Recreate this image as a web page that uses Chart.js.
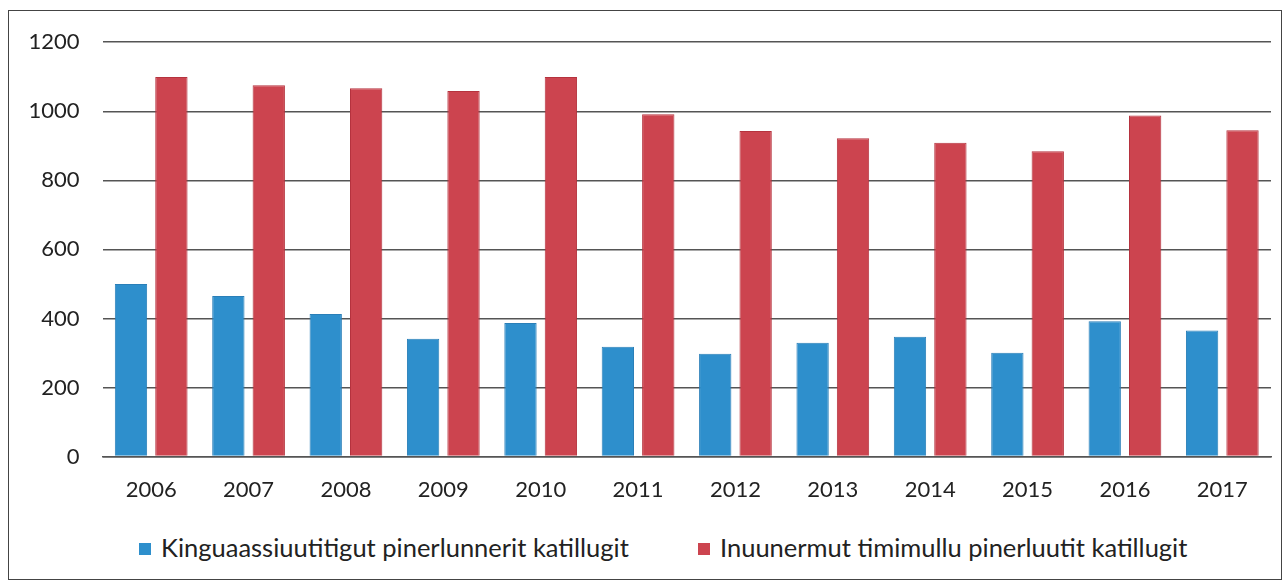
<!DOCTYPE html>
<html lang="kl">
<head>
    <meta charset="UTF-8">
    <title>Katillugit 2006-2017</title>
    <script src="https://cdn.jsdelivr.net/npm/chart.js"></script>
    <style>
        body { margin: 0; padding: 0; background: #fff; font-family: Lato, sans-serif; }
        .frame { position: absolute; left: 8px; top: 10px; width: 1274px; height: 570px; border: 1.5px solid #444; box-sizing: border-box; }
        .chart-box { position: absolute; left: 0; top: -5px; width: 100%; height: 509px; }
        .legend { position: absolute; top: 517px; left: 0; width: 100%; height: 40px; font-size: 25.5px; color: #222; }
        .legend span { position: absolute; top: 4px; white-space: nowrap; }
        .legend i { display: inline-block; width: 12px; height: 12px; margin-right: 10px; vertical-align: 2px; }
        canvas { display: block; }
    </style>
</head>
<body>
    <div class="frame">
        <div class="chart-box"><canvas id="barChart"></canvas></div>
        <div class="legend" id="legend"></div>
    </div>
    <script>
    // years along the x axis
    const years = ["2006", "2007", "2008", "2009", "2010", "2011", "2012", "2013", "2014", "2015", "2016", "2017"];
    // values
    const kinguaassiuutitigut = [500, 465, 413, 341, 387, 318, 298, 330, 347, 301, 392, 365];
    const inuunermut = [1099, 1075, 1067, 1059, 1099, 991, 943, 922, 909, 884, 988, 945];
    const seriesNames = ["Kinguaassiuutitigut pinerlunnerit katillugit", "Inuunermut timimullu pinerluutit katillugit"];
    const seriesColors = ["#2e8fcc", "#cc444f"];
    const yTicks = [0, 200, 400, 600, 800, 1000, 1200];

    const ctx = document.getElementById("barChart").getContext("2d");
    const chart = new Chart(ctx, {
        type: "bar",
        data: {
            labels: years,
            datasets: [
                { label: seriesNames[0], data: kinguaassiuutitigut, backgroundColor: seriesColors[0], borderColor: "#2a7fb8", borderWidth: 1 },
                { label: seriesNames[1], data: inuunermut, backgroundColor: seriesColors[1], borderColor: "#b5333e", borderWidth: 1 }
            ]
        },
        options: {
            responsive: true,
            maintainAspectRatio: false,
            animation: false,
            layout: { padding: { left: 18, right: 10, top: 9, bottom: 0 } },
            datasets: { bar: { categoryPercentage: 0.83, barPercentage: 0.8 } },
            plugins: {
                tooltip: { enabled: false },
                legend: { display: false }
            },
            scales: {
                x: {
                    grid: { display: false },
                    border: { color: "#555", width: 1.5 },
                    ticks: { font: { family: "Lato", size: 22 }, color: "#222", padding: 12 }
                },
                y: {
                    min: 0,
                    max: 1200,
                    afterBuildTicks: axis => { axis.ticks = yTicks.map(v => ({ value: v })); },
                    afterFit: axis => { axis.width = 75.5; },
                    grid: { color: "#555", lineWidth: 1.5, drawTicks: false },
                    border: { display: false },
                    ticks: { font: { family: "Lato", size: 22 }, color: "#222", padding: 23, callback: v => String(v) }
                }
            }
        }
    });

    // legend drawn as html below the chart, same names and colours as the datasets
    const legendX = [130, 689];
    const legend = document.getElementById("legend");
    chart.data.datasets.forEach((ds, i) => {
        const item = document.createElement("span");
        item.style.left = legendX[i] + "px";
        item.innerHTML = '<i style="background:' + ds.backgroundColor + '"></i>' + ds.label;
        legend.appendChild(item);
    });
    </script>
</body>
</html>
